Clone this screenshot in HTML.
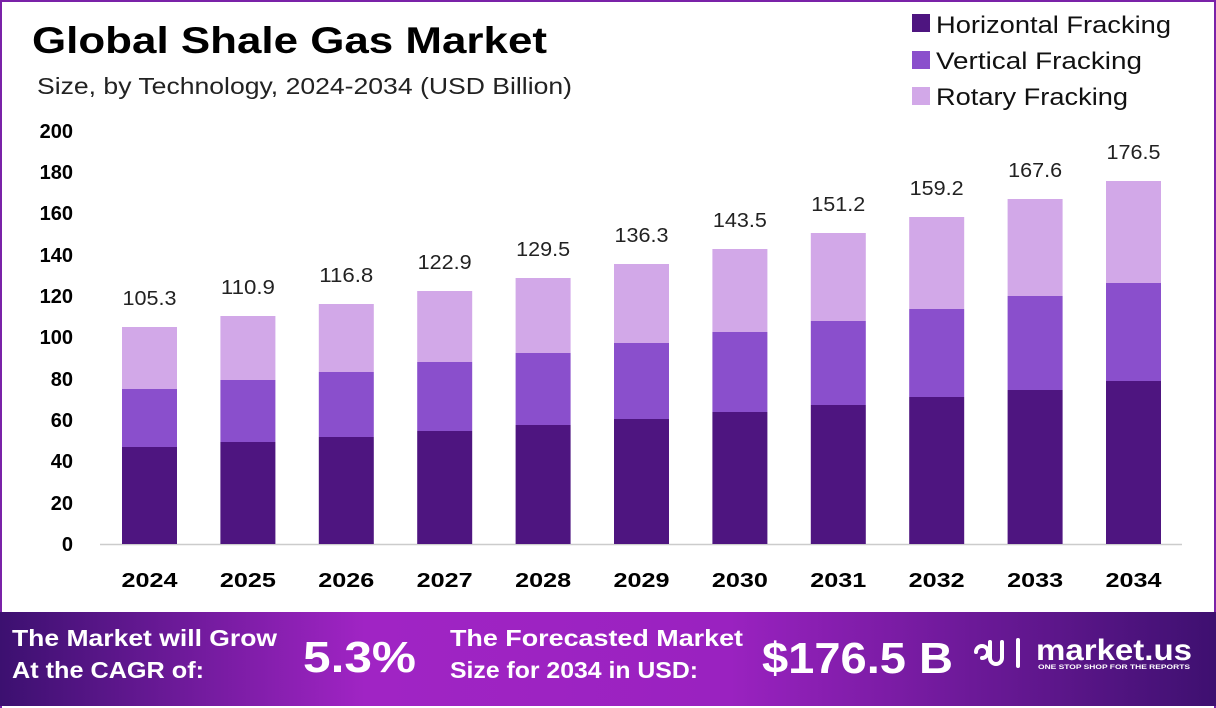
<!DOCTYPE html>
<html><head><meta charset="utf-8"><style>
body{margin:0;width:1216px;height:706px;overflow:hidden;background:#fff;font-family:"Liberation Sans",sans-serif;}
#wrap{position:absolute;left:0;top:0;width:1212px;height:706px;border:2px solid #7a22a8;border-bottom:none;}
</style></head><body>
<div id="wrap"></div>
<svg width="1216" height="706" style="position:absolute;left:0;top:0" font-family="Liberation Sans, sans-serif">
<defs>
<linearGradient id="g" x1="0" x2="1" y1="0" y2="0">
<stop offset="0" stop-color="#3c1070"/><stop offset="0.3" stop-color="#a024c4"/><stop offset="0.6" stop-color="#9a22c0"/><stop offset="1" stop-color="#3e1070"/>
</linearGradient>
</defs>
<text x="32" y="53" font-size="37" font-weight="bold" fill="#000" textLength="515" lengthAdjust="spacingAndGlyphs">Global Shale Gas Market</text>
<text x="37" y="94" font-size="23" fill="#222" textLength="535" lengthAdjust="spacingAndGlyphs">Size, by Technology, 2024-2034 (USD Billion)</text>
<rect x="912" y="14" width="18" height="18" fill="#4e1580"/>
<rect x="912" y="51" width="18" height="18" fill="#8a4fcc"/>
<rect x="912" y="87" width="18" height="18" fill="#d2a8e8"/>
<text x="936" y="33" font-size="24" fill="#111" textLength="235" lengthAdjust="spacingAndGlyphs">Horizontal Fracking</text>
<text x="936" y="69" font-size="24" fill="#111" textLength="206" lengthAdjust="spacingAndGlyphs">Vertical Fracking</text>
<text x="936" y="105" font-size="24" fill="#111" textLength="192" lengthAdjust="spacingAndGlyphs">Rotary Fracking</text>
<g font-size="20" font-weight="bold" fill="#000" text-anchor="end">
<text x="73" y="138">200</text><text x="73" y="179">180</text><text x="73" y="220">160</text><text x="73" y="262">140</text><text x="73" y="303">120</text><text x="73" y="344">100</text><text x="73" y="386">80</text><text x="73" y="427">60</text><text x="73" y="468">40</text><text x="73" y="510">20</text><text x="73" y="551">0</text>
</g>
<line x1="100" y1="544.5" x2="1182" y2="544.5" stroke="#ccc" stroke-width="1.5"/>
<g id="bars"></g>
<rect x="0" y="612" width="1216" height="94" fill="url(#g)"/>
<g fill="#fff" font-weight="bold">
<text x="12" y="646" font-size="23" textLength="265" lengthAdjust="spacingAndGlyphs">The Market will Grow</text>
<text x="12" y="678" font-size="23" textLength="192" lengthAdjust="spacingAndGlyphs">At the CAGR of:</text>
<text x="303" y="672" font-size="44" textLength="113" lengthAdjust="spacingAndGlyphs">5.3%</text>
<text x="450" y="646" font-size="23" textLength="293" lengthAdjust="spacingAndGlyphs">The Forecasted Market</text>
<text x="450" y="678" font-size="23" textLength="248" lengthAdjust="spacingAndGlyphs">Size for 2034 in USD:</text>
<text x="762" y="673" font-size="44" textLength="191" lengthAdjust="spacingAndGlyphs">$176.5 B</text>
<text x="1036" y="660" font-size="30" textLength="156" lengthAdjust="spacingAndGlyphs">market.us</text>
<text x="1038" y="669" font-size="6" textLength="152" lengthAdjust="spacingAndGlyphs">ONE STOP SHOP FOR THE REPORTS</text>
</g>
<g fill="none" stroke="#fff" stroke-width="4" stroke-linecap="round">
<path d="M976 652 a6 6 0 1 1 6 6"/><path d="M990 642 v16 a6 6 0 0 0 12 0 v-16"/><path d="M1018 640 v26"/>
</g>
</svg>
<script>
var tops=[[447,389,327],[442,380,316],[437,372,304],[431,362,291],[425,353,278],[419,343,264],[412,332,249],[405,321,233],[397,309,217],[390,296,199],[381,283,181]];
var tot=["105.3","110.9","116.8","122.9","129.5","136.3","143.5","151.2","159.2","167.6","176.5"];
var s="";
for(var i=0;i<11;i++){var x=122+i*98.4,t=tops[i];
s+='<rect x="'+x+'" y="'+t[2]+'" width="55" height="'+(t[1]-t[2])+'" fill="#d2a8e8"/>';
s+='<rect x="'+x+'" y="'+t[1]+'" width="55" height="'+(t[0]-t[1])+'" fill="#8a4fcc"/>';
s+='<rect x="'+x+'" y="'+t[0]+'" width="55" height="'+(544-t[0])+'" fill="#4e1580"/>';
s+='<text x="'+(x+27.5)+'" y="'+(t[2]-22)+'" font-size="20" text-anchor="middle" fill="#222" textLength="54" lengthAdjust="spacingAndGlyphs">'+tot[i]+'</text>';
s+='<text x="'+(x+27.5)+'" y="587" font-size="20" font-weight="bold" text-anchor="middle" fill="#000" textLength="56" lengthAdjust="spacingAndGlyphs">'+(2024+i)+'</text>';}
document.getElementById("bars").innerHTML=s;
</script>
</body></html>
